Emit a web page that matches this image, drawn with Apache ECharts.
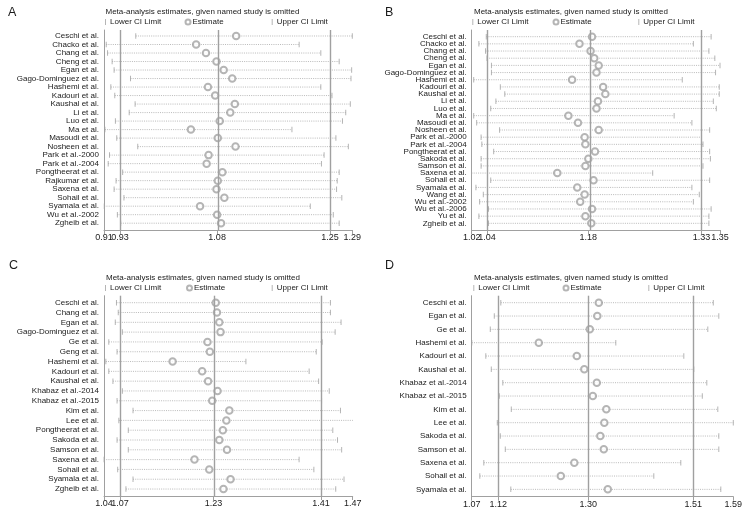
<!DOCTYPE html>
<html><head><meta charset="utf-8">
<script src="https://cdn.jsdelivr.net/npm/echarts@6/dist/echarts.min.js"></script>
<style>html,body{margin:0;padding:0;background:#fff}#c{width:750px;height:515px}</style>
</head><body><div id="c"></div>
<script>
// ---------- Panel A ----------
const namesA = ['Ceschi et al.','Chacko et al.','Chang et al.','Cheng et al.','Egan et al.','Gago-Dominguez et al.','Hashemi et al.','Kadouri et al.','Kaushal et al.','Li et al.','Luo et al.','Ma et al.','Masoudi et al.','Nosheen et al.','Park et al.-2000','Park et al.-2004','Pongtheerat et al.','Rajkumar et al.','Saxena et al.','Sohail et al.','Syamala et al.','Wu et al.-2002','Zgheib et al.'];
const lowerA = [0.954,0.909,0.911,0.918,0.921,0.946,0.916,0.922,0.953,0.944,0.923,0.907,0.925,0.957,0.914,0.912,0.934,0.924,0.921,0.936,0.906,0.926,0.931];
const estA   = [1.107,1.046,1.061,1.077,1.088,1.101,1.064,1.075,1.105,1.098,1.082,1.038,1.079,1.106,1.065,1.062,1.086,1.079,1.077,1.089,1.052,1.078,1.084];
const upperA = [1.284,1.203,1.236,1.264,1.283,1.282,1.236,1.253,1.281,1.274,1.269,1.192,1.259,1.278,1.241,1.237,1.264,1.261,1.260,1.268,1.220,1.255,1.264];
const ticksA = [0.9056,0.93,1.078,1.25,1.284];
const tickLabelsA = ['0.91','0.93','1.08','1.25','1.29'];

// ---------- Panel B ----------
const namesB = ['Ceschi et al.','Chacko et al.','Chang et al.','Cheng et al.','Egan et al.','Gago-Dominguez et al.','Hashemi et al.','Kadouri et al.','Kaushal et al.','Li et al.','Luo et al.','Ma et al.','Masoudi et al.','Nosheen et al.','Park et al.-2000','Park et al.-2004','Pongtheerat et al.','Sakoda et al.','Samson et al.','Saxena et al.','Sohail et al.','Syamala et al.','Wang et al.','Wu et al.-2002','Wu et al.-2006','Yu et al.','Zgheib et al.'];
const lowerB = [1.039,1.029,1.038,1.040,1.046,1.046,1.022,1.058,1.064,1.052,1.045,1.022,1.026,1.057,1.032,1.033,1.049,1.032,1.032,1.019,1.045,1.025,1.035,1.030,1.042,1.029,1.042];
const estB   = [1.182,1.165,1.180,1.185,1.191,1.188,1.155,1.197,1.200,1.190,1.188,1.150,1.163,1.191,1.172,1.173,1.186,1.177,1.173,1.135,1.184,1.162,1.172,1.166,1.182,1.173,1.181];
const upperB = [1.343,1.319,1.340,1.348,1.355,1.349,1.304,1.354,1.354,1.346,1.350,1.293,1.317,1.341,1.330,1.332,1.341,1.342,1.332,1.264,1.341,1.317,1.327,1.319,1.343,1.340,1.340];
const ticksB = [1.0193,1.04,1.177,1.33,1.355];
const tickLabelsB = ['1.02','1.04','1.18','1.33','1.35'];

// ---------- Panel C ----------
const namesC = ['Ceschi et al.','Chang et al.','Egan et al.','Gago-Dominguez et al.','Ge et al.','Geng et al.','Hashemi et al.','Kadouri et al.','Kaushal et al.','Khabaz et al.-2014','Khabaz et al.-2015','Kim et al.','Lee et al.','Pongtheerat et al.','Sakoda et al.','Samson et al.','Saxena et al.','Sohail et al.','Syamala et al.','Zgheib et al.'];
const lowerC = [1.064,1.067,1.062,1.074,1.051,1.065,1.046,1.051,1.058,1.074,1.065,1.092,1.068,1.084,1.065,1.084,1.043,1.066,1.092,1.080];
const estC   = [1.232,1.234,1.238,1.240,1.218,1.222,1.159,1.209,1.219,1.235,1.226,1.255,1.250,1.244,1.238,1.251,1.196,1.221,1.257,1.245];
const upperC = [1.426,1.426,1.444,1.434,1.412,1.402,1.283,1.390,1.406,1.424,1.411,1.443,1.464,1.430,1.438,1.445,1.373,1.398,1.449,1.435];
const ticksC = [1.0429,1.07,1.228,1.41,1.4637];
const tickLabelsC = ['1.04','1.07','1.23','1.41','1.47'];

// ---------- Panel D ----------
const namesD = ['Ceschi et al.','Egan et al.','Ge et al.','Hashemi et al.','Kadouri et al.','Kaushal et al.','Khabaz et al.-2014','Khabaz et al.-2015','Kim et al.','Lee et al.','Sakoda et al.','Samson et al.','Saxena et al.','Sohail et al.','Syamala et al.'];
const lowerD = [1.125,1.112,1.104,1.067,1.095,1.106,1.129,1.122,1.146,1.118,1.124,1.134,1.091,1.083,1.145];
const estD   = [1.321,1.318,1.303,1.201,1.277,1.292,1.317,1.309,1.336,1.332,1.324,1.331,1.272,1.245,1.339];
const upperD = [1.550,1.561,1.539,1.355,1.491,1.511,1.537,1.528,1.559,1.590,1.561,1.561,1.485,1.431,1.565];
const ticksD = [1.0668,1.12,1.30,1.51,1.59];
const tickLabelsD = ['1.07','1.12','1.30','1.51','1.59'];

const heading = 'Meta-analysis estimates, given named study is omitted';
const legendNames = ['Lower CI Limit','Estimate','Upper CI Limit'];

const panels = [
  {letter:'A', names:namesA, lower:lowerA, est:estA, upper:upperA, ticks:ticksA, labels:tickLabelsA,
   grid:{left:104,top:30,width:248.3,height:200}, yr:[-0.705,22.8],
   letterPos:[8,6], titlePos:[105.5,7.5], legTop:18, legLeft:[105,184.5,271.7]},
  {letter:'B', names:namesB, lower:lowerB, est:estB, upper:upperB, ticks:ticksB, labels:tickLabelsB,
   grid:{left:471.7,top:30,width:248.3,height:200}, yr:[-0.93,26.93],
   letterPos:[385,6], titlePos:[474,7.5], legTop:18, legLeft:[472.3,552.5,638.3]},
  {letter:'C', names:namesC, lower:lowerC, est:estC, upper:upperC, ticks:ticksC, labels:tickLabelsC,
   grid:{left:104,top:295.7,width:248.7,height:200.3}, yr:[-0.714,19.71],
   letterPos:[9,259], titlePos:[106,273.8], legTop:284, legLeft:[105,186,271.7]},
  {letter:'D', names:namesD, lower:lowerD, est:estD, upper:upperD, ticks:ticksD, labels:tickLabelsD,
   grid:{left:471.7,top:295.7,width:261.6,height:201}, yr:[-0.525,14.55],
   letterPos:[385,259], titlePos:[474,273.8], legTop:284, legLeft:[473.3,562.5,648.3]}
];

const FONT = 'Liberation Sans, Arial, sans-serif';
const TXT = '#1a1a1a';
const LINE = '#a0a0a0';
const MARK = '#a3a3a3';

const option = {
  animation:false, backgroundColor:'#fff',
  textStyle:{fontFamily:FONT},
  title:[], legend:[], grid:[], xAxis:[], yAxis:[], series:[]
};

function tickFormatter(ticks, labels) {
  return (v) => { const i = ticks.findIndex(t => Math.abs(t - v) < 1e-7); return i >= 0 ? labels[i] : ''; };
}

panels.forEach((p, k) => {
  option.title.push({text:p.letter, left:p.letterPos[0], top:p.letterPos[1], padding:0,
    textStyle:{fontSize:12.5, fontWeight:'normal', color:TXT, fontFamily:FONT}});
  option.title.push({text:heading, left:p.titlePos[0], top:p.titlePos[1], padding:0,
    textStyle:{fontSize:8, fontWeight:'normal', color:TXT, fontFamily:FONT}});
  const icons = [{icon:'rect', w:1, h:6},{icon:'emptyCircle', w:5, h:5},{icon:'rect', w:1, h:6}];
  legendNames.forEach((nm, j) => {
    option.legend.push({data:[{name:nm, icon:icons[j].icon}], left:p.legLeft[j], top:p.legTop, padding:0,
      itemWidth:icons[j].w, itemHeight:icons[j].h, selectedMode:false,
      textStyle:{fontSize:8, color:TXT, fontFamily:FONT, padding:[0,0,0,j===1?-3:-1]}});
  });
  option.grid.push(Object.assign({containLabel:false}, p.grid));
  const ticks = p.ticks, labels = p.labels;
  const main = ticks.slice(1);
  option.xAxis.push({type:'value', gridIndex:k, min:ticks[0], max:ticks[4], position:'bottom',
    axisLine:{show:true, onZero:false, lineStyle:{color:LINE, width:1}},
    axisTick:{show:true, length:4, customValues:main, lineStyle:{color:LINE}},
    splitLine:{show:false},
    axisLabel:{customValues:main, margin:3.5, fontSize:9, color:TXT, fontFamily:FONT,
      hideOverlap:false, formatter:tickFormatter(ticks, labels)}
  });
  option.xAxis.push({type:'value', gridIndex:k, min:ticks[0], max:ticks[4], position:'bottom',
    axisLine:{show:false, onZero:false},
    axisTick:{show:true, length:4, customValues:[ticks[0]], lineStyle:{color:LINE}},
    splitLine:{show:false},
    axisLabel:{customValues:[ticks[0]], margin:3.5, fontSize:9, color:TXT, fontFamily:FONT,
      hideOverlap:false, formatter:tickFormatter(ticks, labels)}
  });
  const even = p.names.map((_, i) => i).filter(i => i % 2 === 0);
  const odd = p.names.map((_, i) => i).filter(i => i % 2 === 1);
  [even, odd].forEach((vals, m) => {
    option.yAxis.push({type:'value', gridIndex:k, inverse:true, min:p.yr[0], max:p.yr[1], position:'left', offset:0,
      axisLine:{show:m === 0, onZero:false, lineStyle:{color:LINE, width:1}},
      axisTick:{show:false}, splitLine:{show:false},
      axisLabel:{customValues:vals, margin:5, fontSize:8, color:TXT, fontFamily:FONT,
        hideOverlap:false, showMinLabel:true, showMaxLabel:true,
        formatter:(v) => p.names[Math.round(v)] || ''}
    });
  });
  const xi = 2 * k, yi = 2 * k;
  option.series.push({type:'custom', xAxisIndex:xi, yAxisIndex:yi, silent:true, z:1,
    data:p.names.map((_, i) => [p.lower[i], p.upper[i], i]),
    encode:{x:[0,1], y:2},
    renderItem:(params, api) => {
      const a = api.coord([api.value(0), api.value(2)]);
      const b = api.coord([api.value(1), api.value(2)]);
      return {type:'line', shape:{x1:a[0], y1:a[1], x2:b[0], y2:b[1]},
        style:{stroke:'#a8a8a8', lineWidth:0.8, lineDash:[1,1.2]}};
    },
    markLine:{silent:true, symbol:'none', label:{show:false},
      lineStyle:{color:LINE, width:1.4, type:'solid'},
      data:[{xAxis:ticks[1]},{xAxis:ticks[2]},{xAxis:ticks[3]}]}
  });
  option.series.push({type:'scatter', name:'Lower CI Limit', xAxisIndex:xi, yAxisIndex:yi, silent:true, z:3,
    symbol:'rect', symbolSize:[1,5.5], itemStyle:{color:MARK},
    data:p.names.map((_, i) => [p.lower[i], i])});
  option.series.push({type:'scatter', name:'Estimate', xAxisIndex:xi, yAxisIndex:yi, silent:true, z:4,
    symbol:'emptyCircle', symbolSize:6.5, itemStyle:{color:MARK, borderWidth:0.7},
    data:p.names.map((_, i) => [p.est[i], i])});
  option.series.push({type:'scatter', name:'Upper CI Limit', xAxisIndex:xi, yAxisIndex:yi, silent:true, z:3,
    symbol:'rect', symbolSize:[1,5.5], itemStyle:{color:MARK},
    data:p.names.map((_, i) => [p.upper[i], i])});
});

const chart = echarts.init(document.getElementById('c'), null, {renderer:'canvas'});
chart.setOption(option);
</script>
</body></html>
